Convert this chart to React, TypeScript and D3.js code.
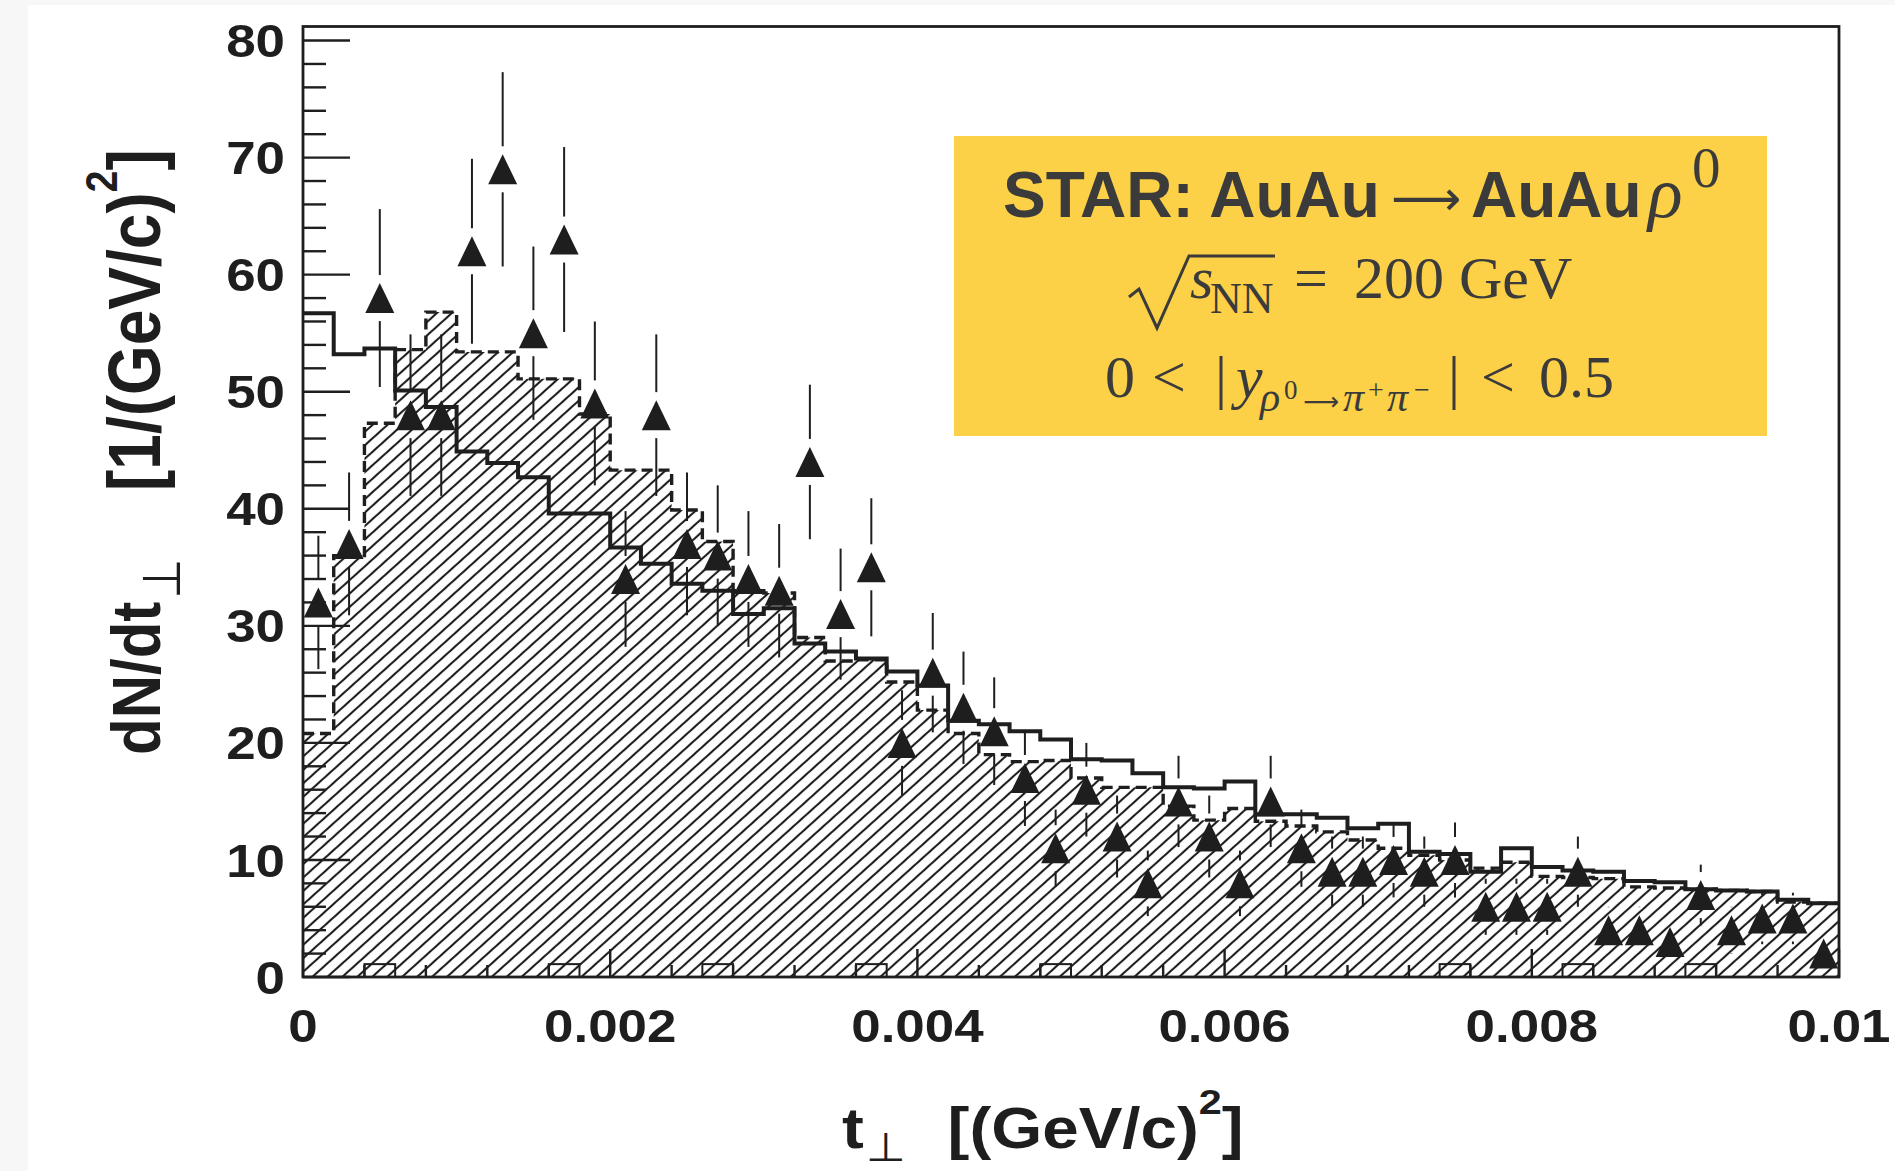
import React from 'react';
import * as d3 from 'd3';

const W = 1895;
const H = 1171;

// t_perp binning of the histograms
const tMin = 0;
const tMax = 0.01;
const binWidth = 0.0002;
const yMax = 81.2;

// STAR data points, dN/dt_perp per bin, with statistical errors
const dataValues = [
  32, 37, 58, 48, 48, 62, 69, 55, 63, 49,
  34, 48, 37, 36, 34, 33, 44, 31, 35, 20,
  26, 23, 21, 17, 11, 16, 12, 8, 15, 12,
  8, 15, 11, 9, 9, 10, 9, 10, 6, 6,
  6, 9, 4, 4, 3, 7, 4, 5, 5, 2,
];
const dataErrors = [
  5.7, 6.1, 7.6, 6.9, 6.9, 7.9, 8.3, 7.4, 7.9, 7.0,
  5.8, 6.9, 6.1, 6.0, 5.8, 5.7, 6.6, 5.6, 5.9, 4.5,
  5.1, 4.8, 4.6, 4.1, 3.3, 4.0, 3.5, 2.8, 3.9, 3.5,
  2.8, 3.9, 3.3, 3.0, 3.0, 3.2, 3.0, 3.2, 2.4, 2.4,
  2.4, 3.0, 2.0, 2.0, 1.7, 2.6, 2.0, 2.2, 2.2, 1.4,
];

// Simulation without interference (solid outline)
const simSolid = [
  56.7, 53.2, 53.7, 50.1, 48.7, 44.9, 43.9, 42.7, 39.6, 39.6,
  36.7, 35.3, 33.6, 33.0, 31.0, 31.5, 28.5, 27.8, 27.2, 26.1,
  24.9, 21.9, 21.6, 21.0, 20.3, 18.6, 18.5, 17.4, 16.2, 16.1,
  16.7, 13.9, 13.9, 13.6, 12.7, 13.1, 10.7, 10.5, 9.0, 11.0,
  9.4, 9.1, 9.0, 8.2, 8.1, 7.5, 7.4, 7.3, 6.6, 6.3,
];

// Simulation with interference (dashed outline, hatched)
const simDashed = [
  20.8, 36.0, 47.3, 53.6, 56.8, 53.4, 53.4, 51.1, 51.1, 48.1,
  43.3, 43.3, 39.9, 37.2, 33.0, 32.8, 29.0, 27.0, 27.1, 25.2,
  22.8, 20.8, 19.0, 18.4, 18.5, 17.0, 16.2, 16.2, 14.6, 13.4,
  14.4, 13.3, 12.9, 12.4, 11.7, 11.0, 10.4, 10.0, 9.3, 9.8,
  8.6, 8.5, 8.4, 7.7, 7.6, 7.5, 7.4, 7.3, 6.4, 6.3,
];

// Like-sign background bins
const bgCenters = [0.0005, 0.0017, 0.0027, 0.0037, 0.0049, 0.0075, 0.0083, 0.0091];
const bgValues = [1.1, 1.1, 1.1, 1.1, 1.1, 1.1, 1.1, 1.1];

// Axis ticks
const yMajorTicks = [0, 10, 20, 30, 40, 50, 60, 70, 80];
const yMinorStep = 2;
const xMajorTicks = [0, 0.002, 0.004, 0.006, 0.008, 0.01];
const xTickLabels = ['0', '0.002', '0.004', '0.006', '0.008', '0.01'];
const xMinorStep = 0.0004;

const INK = '#1e1e1e';
const LEGEND_INK = '#3b3b3b';
const SANS = '"Liberation Sans", Arial, Helvetica, sans-serif';
const SERIF = '"Liberation Serif", "Times New Roman", serif';
const ARROW_FONT = "'DejaVu Sans', sans-serif";
const STRETCH = 1.15;

const x = d3.scaleLinear().domain([tMin, tMax]).range([303, 1839]);
const y = d3.scaleLinear().domain([0, yMax]).range([977, 26.5]);

const nBins = dataValues.length;
const binLeft = d3.range(nBins).map((i) => tMin + i * binWidth);
const binCenter = binLeft.map((t) => t + binWidth / 2);

const stepPoints = (vals: number[]) =>
  [...vals.map((v, i) => [binLeft[i], v] as [number, number]), [tMax, vals[vals.length - 1]] as [number, number]];

const stepLine = d3
  .line<[number, number]>()
  .x((d) => x(d[0]))
  .y((d) => y(d[1]))
  .curve(d3.curveStepAfter);

const stepArea = d3
  .area<[number, number]>()
  .x((d) => x(d[0]))
  .y0(y(0))
  .y1((d) => y(d[1]))
  .curve(d3.curveStepAfter);

const yMinorTicks = d3.range(0, yMax, yMinorStep).filter((v) => v % 10 !== 0);
const xMinorTicks = d3
  .range(0, tMax + 1e-9, xMinorStep)
  .filter((t) => !xMajorTicks.some((m) => Math.abs(m - t) < 1e-9));

const MARK_HALF_W = 14.5;
const MARK_HALF_H = 15;
const BAR_GAP = 23;

export default function App() {
  const [x0, x1] = x.range();
  const [yb, yt] = y.range();

  return (
    <svg
      width={W}
      height={H}
      viewBox={`0 0 ${W} ${H}`}
      style={{ position: 'absolute', left: 0, top: 0, display: 'block' }}
    >
      <defs>
        <pattern
          id="hatch"
          patternUnits="userSpaceOnUse"
          width={10}
          height={10}
          patternTransform="rotate(48)"
        >
          <line x1={5} y1={-1} x2={5} y2={11} stroke={INK} strokeWidth={2.1} />
        </pattern>
        <clipPath id="frameClip">
          <rect x={x0} y={yt} width={x1 - x0} height={yb - yt} />
        </clipPath>
      </defs>

      <rect x={0} y={0} width={W} height={H} fill="#f7f7f7" />
      <rect x={28} y={5} width={W - 28} height={H - 5} fill="#ffffff" />

      <g clipPath="url(#frameClip)">
        {/* hatched simulation */}
        <path d={stepArea(stepPoints(simDashed)) ?? ''} fill="url(#hatch)" stroke="none" />

        {/* like-sign background */}
        {bgCenters.map((c, i) => (
          <rect
            key={`bg${i}`}
            x={x(c - binWidth / 2)}
            y={y(bgValues[i])}
            width={x(c + binWidth / 2) - x(c - binWidth / 2)}
            height={y(0) - y(bgValues[i])}
            fill="none"
            stroke={INK}
            strokeWidth={2}
          />
        ))}

        {/* solid simulation */}
        <path
          d={stepLine(stepPoints(simSolid)) ?? ''}
          fill="none"
          stroke={INK}
          strokeWidth={4}
          strokeLinejoin="miter"
        />
        {/* dashed simulation */}
        <path
          d={stepLine(stepPoints(simDashed)) ?? ''}
          fill="none"
          stroke={INK}
          strokeWidth={3.4}
          strokeDasharray="11 6"
        />
      </g>

      {/* data points with error bars */}
      <g>
        {dataValues.map((v, i) => {
          const cx = x(binCenter[i]);
          const cy = y(v);
          const top = y(v + dataErrors[i]);
          const bot = y(v - dataErrors[i]);
          return (
            <g key={`p${i}`}>
              {top < cy - BAR_GAP && (
                <line x1={cx} x2={cx} y1={top} y2={cy - BAR_GAP} stroke={INK} strokeWidth={2} />
              )}
              {bot > cy + BAR_GAP && (
                <line x1={cx} x2={cx} y1={cy + BAR_GAP} y2={bot} stroke={INK} strokeWidth={2} />
              )}
              <path
                d={`M${cx},${cy - MARK_HALF_H}L${cx + MARK_HALF_W},${cy + MARK_HALF_H}L${cx - MARK_HALF_W},${cy + MARK_HALF_H}Z`}
                fill={INK}
              />
            </g>
          );
        })}
      </g>

      {/* axis ticks */}
      <g stroke={INK} strokeWidth={2.4}>
        {yMajorTicks.map((v) => (
          <line key={`ym${v}`} x1={x0} x2={x0 + 47} y1={y(v)} y2={y(v)} />
        ))}
        {yMinorTicks.map((v) => (
          <line key={`yn${v}`} x1={x0} x2={x0 + 23} y1={y(v)} y2={y(v)} />
        ))}
        {xMajorTicks.map((t) => (
          <line key={`xm${t}`} x1={x(t)} x2={x(t)} y1={yb} y2={yb - 28} />
        ))}
        {xMinorTicks.map((t) => (
          <line key={`xn${t}`} x1={x(t)} x2={x(t)} y1={yb} y2={yb - 12} />
        ))}
      </g>

      {/* frame */}
      <rect
        x={x0}
        y={yt}
        width={x1 - x0}
        height={yb - yt}
        fill="none"
        stroke={INK}
        strokeWidth={2.8}
      />

      {/* tick labels */}
      <g fill={INK} fontFamily={SANS} fontWeight="bold" fontSize={46}>
        {yMajorTicks.map((v) => (
          <text
            key={`yl${v}`}
            transform={`translate(285,${y(v)}) scale(${STRETCH},1)`}
            textAnchor="end"
            dy="0.36em"
          >
            {v}
          </text>
        ))}
        {xMajorTicks.map((t, i) => (
          <text
            key={`xl${t}`}
            transform={`translate(${x(t)},1042) scale(${STRETCH},1)`}
            textAnchor="middle"
          >
            {xTickLabels[i]}
          </text>
        ))}
      </g>

      {/* axis titles */}
      <text
        transform={`translate(842,1148) scale(${STRETCH},1)`}
        fill={INK}
        fontFamily={SANS}
        fontWeight="bold"
        fontSize={57}
      >
        <tspan>t</tspan>
        <tspan dx={2} dy={13} fontFamily="'DejaVu Sans'" fontWeight="normal" fontSize={40}>
          ⊥
        </tspan>
        <tspan dx={36} dy={-13}>[(GeV/c)</tspan>
        <tspan dy={-34} fontSize={36}>2</tspan>
        <tspan dy={34}>]</tspan>
      </text>

      <text
        transform={`translate(160,755) scale(${STRETCH},1) rotate(-90)`}
        fill={INK}
        fontFamily={SANS}
        fontWeight="bold"
        fontSize={60}
      >
        <tspan>dN/dt</tspan>
        <tspan dx={3} dy={17} fontFamily="'DejaVu Sans'" fontWeight="normal" fontSize={46}>
          ⊥
        </tspan>
      </text>
      <text
        transform={`translate(160,491) scale(${STRETCH},1) rotate(-90)`}
        fill={INK}
        fontFamily={SANS}
        fontWeight="bold"
        fontSize={64}
      >
        <tspan>[1/(GeV/c)</tspan>
        <tspan dy={-37} fontSize={39}>2</tspan>
        <tspan dy={37}>]</tspan>
      </text>

      {/* legend box */}
      <rect x={954} y={136} width={813} height={300} fill="#fcd047" />
      <g fill={LEGEND_INK}>
        <text fontFamily={SERIF} fontSize={60}>
          <tspan x={1003} y={217} fontFamily={SANS} fontWeight="bold" fontSize={64}>
            STAR: AuAu
          </tspan>
          <tspan x={1391} y={215} fontFamily={ARROW_FONT} fontSize={49}>
            ⟶
          </tspan>
          <tspan x={1471} y={217} fontFamily={SANS} fontWeight="bold" fontSize={64}>
            AuAu
          </tspan>
          <tspan x={1648} y={217} fontStyle="italic" fontSize={72}>
            ρ
          </tspan>
          <tspan x={1692} y={187} fontSize={57}>
            0
          </tspan>
        </text>

        <path
          d="M1129,297 L1139,289 L1157,328 L1189,256 L1275,256"
          fill="none"
          stroke={LEGEND_INK}
          strokeWidth={3}
          strokeLinejoin="miter"
        />
        <text fontFamily={SERIF} fontSize={60}>
          <tspan x={1190} y={298} fontStyle="italic">
            s
          </tspan>
          <tspan x={1210} y={313} fontSize={44}>
            NN
          </tspan>
          <tspan x={1294} y={298}>
            =
          </tspan>
          <tspan x={1354} y={298}>
            200 GeV
          </tspan>
        </text>

        <text fontFamily={SERIF} fontSize={60}>
          <tspan x={1105} y={397}>0</tspan>
          <tspan x={1152} y={397}>&lt;</tspan>
          <tspan x={1215} y={397}>|</tspan>
          <tspan x={1236} y={397} fontStyle="italic">
            y
          </tspan>
          <tspan x={1260} y={411} fontStyle="italic" fontSize={42}>
            ρ
          </tspan>
          <tspan x={1284} y={399} fontSize={27}>
            0
          </tspan>
          <tspan x={1303} y={410} fontFamily={ARROW_FONT} fontSize={25}>
            ⟶
          </tspan>
          <tspan x={1343} y={411} fontStyle="italic" fontSize={42}>
            π
          </tspan>
          <tspan x={1368} y={399} fontSize={28}>
            +
          </tspan>
          <tspan x={1387} y={411} fontStyle="italic" fontSize={42}>
            π
          </tspan>
          <tspan x={1414} y={399} fontSize={28}>
            −
          </tspan>
          <tspan x={1448} y={397}>|</tspan>
          <tspan x={1481} y={397}>&lt;</tspan>
          <tspan x={1539} y={397}>0.5</tspan>
        </text>
      </g>
    </svg>
  );
}
